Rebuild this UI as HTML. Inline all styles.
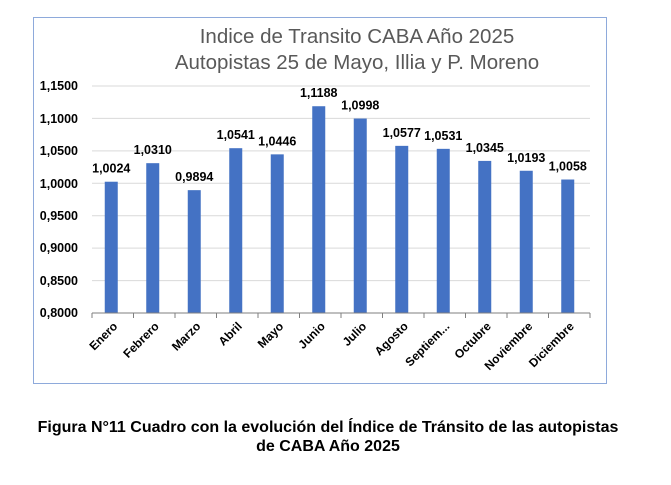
<!DOCTYPE html>
<html><head><meta charset="utf-8"><style>
body{margin:0;width:671px;height:485px;background:#fff;font-family:"Liberation Sans",sans-serif;overflow:hidden}
</style></head><body>
<svg width="671" height="485" xmlns="http://www.w3.org/2000/svg" style="position:absolute;left:0;top:0">
<rect x="33.5" y="17.5" width="573" height="366" fill="#fff" stroke="#8eaadb" stroke-width="1"/>
<g font-family="Liberation Sans, sans-serif" fill="#595959" font-size="20.5" text-anchor="middle">
<text x="357" y="43">Indice de Transito CABA Año 2025</text>
<text x="357" y="69">Autopistas 25 de Mayo, Illia y P. Moreno</text>
</g>
<g stroke="#d9d9d9" stroke-width="1">
<line x1="92" x2="590" y1="86" y2="86"/><line x1="92" x2="590" y1="118.4" y2="118.4"/>
<line x1="92" x2="590" y1="150.9" y2="150.9"/><line x1="92" x2="590" y1="183.3" y2="183.3"/>
<line x1="92" x2="590" y1="215.7" y2="215.7"/><line x1="92" x2="590" y1="248.1" y2="248.1"/>
<line x1="92" x2="590" y1="280.6" y2="280.6"/>
</g>
<g font-size="12.5" font-weight="bold" fill="#000" text-anchor="end">
<text x="78" y="90">1,1500</text><text x="78" y="123">1,1000</text><text x="78" y="155">1,0500</text>
<text x="78" y="188">1,0000</text><text x="78" y="220">0,9500</text><text x="78" y="252">0,9000</text>
<text x="78" y="285">0,8500</text><text x="78" y="317">0,8000</text>
</g>
<g id="bars" fill="#4472c4"></g>
<g id="vals" font-size="12.5" font-weight="bold" fill="#000" text-anchor="middle"></g>
<g id="cats" font-size="12" font-weight="bold" fill="#000" text-anchor="end"></g>
<line x1="92" x2="590" y1="313" y2="313" stroke="#7f7f7f"/>
<g id="ticks" stroke="#7f7f7f"></g>
<g font-size="16" font-weight="bold" fill="#000" text-anchor="middle">
<text x="328" y="432">Figura N°11 Cuadro con la evolución del Índice de Tránsito de las autopistas</text>
<text x="328" y="451">de CABA Año 2025</text>
</g>
</svg>
<script>
var v=[1.0024,1.0310,0.9894,1.0541,1.0446,1.1188,1.0998,1.0577,1.0531,1.0345,1.0193,1.0058];
var c=["Enero","Febrero","Marzo","Abril","Mayo","Junio","Julio","Agosto","Septiem...","Octubre","Noviembre","Diciembre"];
var ns="http://www.w3.org/2000/svg",w=(590-92)/12;
function el(t,a,p,txt){var e=document.createElementNS(ns,t);for(var k in a)e.setAttribute(k,a[k]);if(txt)e.textContent=txt;document.getElementById(p).appendChild(e);}
for(var i=0;i<=12;i++)el("line",{x1:92+i*w,x2:92+i*w,y1:313,y2:318},"ticks");
for(var i=0;i<12;i++){var cx=92+w*(i+0.5)-1.5,y=313-(v[i]-0.8)/0.05*32.43;
el("rect",{x:cx-6.5,y:y,width:13,height:313-y},"bars");
el("text",{x:cx,y:y-9},"vals",v[i].toFixed(4).replace(".",","));
el("text",{x:cx+7,y:327,transform:"rotate(-45 "+(cx+7)+" 327)"},"cats",c[i]);}
</script>
</body></html>
